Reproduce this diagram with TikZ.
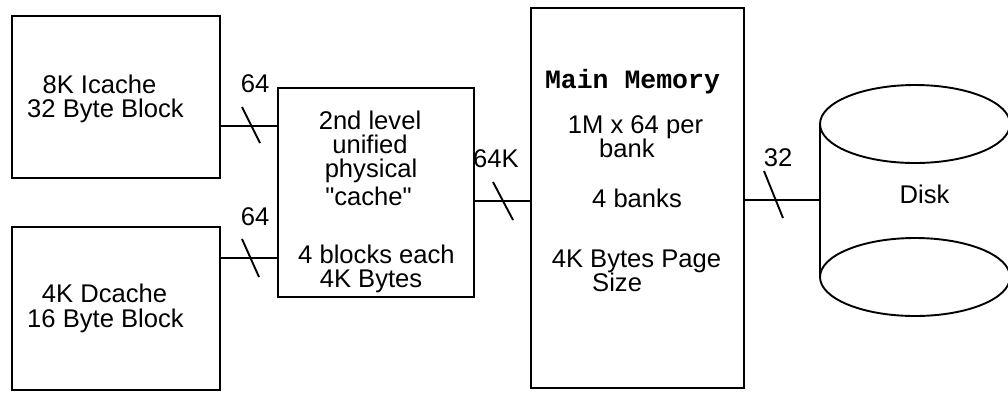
\documentclass[tikz,border=0pt]{standalone}
\usepackage{fontspec}
\setmainfont{Liberation Sans}
\newfontfamily\plainsans{Liberation Sans}
\newfontfamily\monob{Liberation Mono}
\begin{document}
\begin{tikzpicture}[x=1pt,y=-1pt,
  box/.style={draw,line width=1.9pt,inner sep=0pt,outer sep=0pt},
  bus/.style={line width=1.9pt},
  slash/.style={line width=1.9pt},
  txt/.style={inner sep=0pt,anchor=base,font=\fontsize{25.6}{25}\selectfont},
  lbl/.style={inner sep=0pt,anchor=base,font=\fontsize{25.6}{25}\selectfont}]
\useasboundingbox[fill=white] (0,0) rectangle (1008,392);
% boxes
\node[box,minimum width=208pt,minimum height=162pt] (ic) at (116,97) {};
\node[box,minimum width=208pt,minimum height=163pt] (dc) at (116,308.5) {};
\node[box,minimum width=196pt,minimum height=209pt] (l2) at (376,192.5) {};
\node[box,minimum width=213pt,minimum height=380pt] (mm) at (637.5,198) {};
% disk
\coordinate (dtop) at (915,124);
\coordinate (dbot) at (915,277);
\coordinate (dl) at (820,200);
\draw[line width=1.9pt] (dtop) ellipse [x radius=95pt, y radius=39pt];
\draw[line width=1.9pt] (dbot) ellipse [x radius=95pt, y radius=39pt];
\draw[line width=1.9pt] (820,124) -- (820,277);
% texts
\node[txt] (t1) at (99.5,93) {8K Icache};
\node[txt] (t2) at (105.5,117) {32 Byte Block};
\node[txt] (t3) at (104.5,302) {4K Dcache};
\node[txt] (t4) at (105.5,327) {16 Byte Block};
\node[txt] (t5) at (370,129) {2nd level};
\node[txt] (t6) at (370,153) {unified};
\node[txt] (t7) at (371,177) {physical};
\node[txt] (t8) at (368.5,205) {\plainsans "cache"};
\node[txt] (t9) at (376.5,263) {4 blocks each};
\node[txt] (t10) at (371,287) {4K Bytes};
\node[inner sep=0pt,anchor=base,font=\monob\bfseries\fontsize{26.5}{26.5}\selectfont] (t11) at (632.5,88) {Main Memory};
\node[txt] (t12) at (635.5,133) {1M x 64 per};
\node[txt,anchor=base west] (t13) at (599,157) {bank};
\node[txt] (t14) at (637,207) {4 banks};
\node[txt] (t15) at (636.5,267) {4K Bytes Page};
\node[txt,anchor=base west] (t16) at (592,291) {Size};
\node[txt] (t17) at (924.5,203) {Disk};
% buses
\draw[bus] (ic.east |- 0,126) -- (l2.west |- 0,126);
\draw[bus] (dc.east |- 0,258) -- (l2.west |- 0,258);
\draw[bus] (l2.east |- 0,201) -- (mm.west |- 0,201);
\draw[bus] (mm.east |- dl) -- (dl);
% slashes
\draw[slash] (242,107) -- (260,143);
\draw[slash] (242,239) -- (259,277);
\draw[slash] (493,182) -- (513,220);
\draw[slash] (764,171) -- (783,218);
% bus labels
\node[lbl] (w1) at (255,92) {64};
\node[lbl] (w2) at (255,225) {64};
\node[lbl] (w3) at (496,167) {64K};
\node[lbl] (w4) at (778,166) {32};
\end{tikzpicture}
\end{document}
